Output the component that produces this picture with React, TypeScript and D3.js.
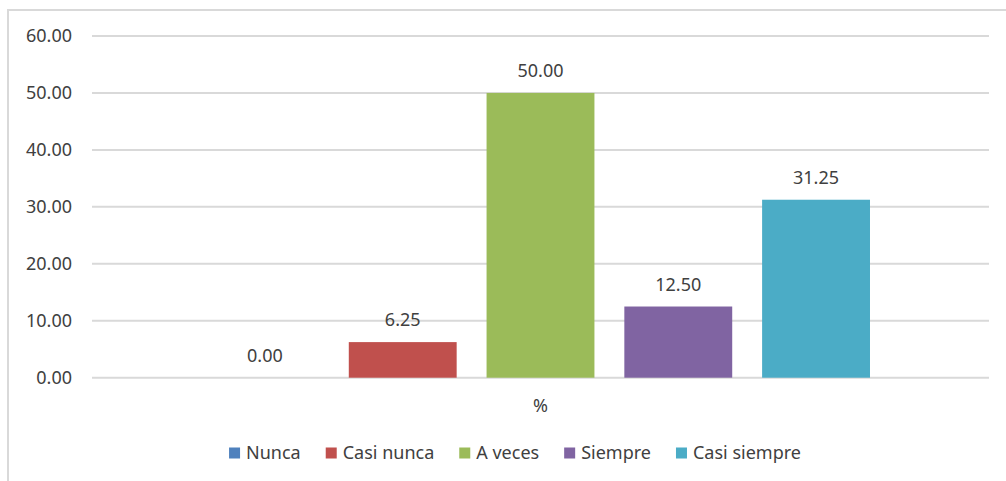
import React, { useEffect, useRef } from "react";
import * as d3 from "d3";

const categories = ["%"];
const seriesNames = ["Nunca", "Casi nunca", "A veces", "Siempre", "Casi siempre"];
const seriesValues = [0.0, 6.25, 50.0, 12.5, 31.25];
const seriesColors = ["#4F81BD", "#C0504D", "#9BBB59", "#8064A2", "#4BACC6"];
const yTicks = [0, 10, 20, 30, 40, 50, 60];

const W = 1006;
const H = 481;
const FONT = "'Noto Sans', 'Open Sans', sans-serif";
const TEXT = "#404040";

export default function App() {
  const ref = useRef<SVGSVGElement | null>(null);

  useEffect(() => {
    const svg = d3.select(ref.current);
    svg.selectAll("*").remove();

    const plotLeft = 92, plotRight = 989, plotTop = 36, plotBottom = 377.7;

    // chart border
    svg.append("path")
      .attr("d", `M8,${H} L8,10 L${W},10`)
      .attr("fill", "none")
      .attr("stroke", "#D9D9D9")
      .attr("stroke-width", 2);

    const y = d3.scaleLinear().domain([0, 60]).range([plotBottom, plotTop]);
    const x0 = d3.scaleBand<string>().domain(categories).range([plotLeft, plotRight])
      .paddingInner(0).paddingOuter(0.1806);
    const x1 = d3.scaleBand<string>().domain(seriesNames).range([0, x0.bandwidth()])
      .paddingInner(0.217).paddingOuter(0);

    // gridlines
    svg.append("g").selectAll("line").data(yTicks).join("line")
      .attr("x1", plotLeft).attr("x2", plotRight)
      .attr("y1", (d) => y(d)).attr("y2", (d) => y(d))
      .attr("stroke", "#D9D9D9").attr("stroke-width", 2);

    // y labels
    svg.append("g").selectAll("text").data(yTicks).join("text")
      .attr("x", 72).attr("y", (d) => y(d))
      .attr("dy", "0.35em")
      .attr("text-anchor", "end")
      .attr("font-family", FONT).attr("font-size", 18).attr("fill", TEXT)
      .text((d) => d.toFixed(2));

    // bars
    const g = svg.append("g");
    categories.forEach((c) => {
      const gx = x0(c) as number;
      g.selectAll("rect.bar").data(seriesNames).join("rect")
        .attr("class", "bar")
        .attr("x", (s) => gx + (x1(s) as number))
        .attr("width", x1.bandwidth())
        .attr("y", (_, i) => y(seriesValues[i]))
        .attr("height", (_, i) => y(0) - y(seriesValues[i]))
        .attr("fill", (_, i) => seriesColors[i]);
      g.selectAll("text.val").data(seriesNames).join("text")
        .attr("class", "val")
        .attr("x", (s) => gx + (x1(s) as number) + x1.bandwidth() / 2)
        .attr("y", (_, i) => y(seriesValues[i]) - 22)
        .attr("dy", "0.35em")
        .attr("text-anchor", "middle")
        .attr("font-family", FONT).attr("font-size", 18).attr("fill", TEXT)
        .text((_, i) => seriesValues[i].toFixed(2));
      svg.append("text")
        .attr("x", gx + x0.bandwidth() / 2).attr("y", 406)
        .attr("dy", "0.35em").attr("text-anchor", "middle")
        .attr("font-family", FONT).attr("font-size", 18).attr("fill", TEXT)
        .text(c);
    });

    // legend
    const lg = svg.append("g");
    const items = lg.selectAll("g").data(seriesNames).join("g");
    items.append("rect").attr("width", 11).attr("height", 11).attr("y", -5.5)
      .attr("fill", (_, i) => seriesColors[i]);
    const texts = items.append("text").attr("x", 17).attr("dy", "0.35em")
      .attr("font-family", FONT).attr("font-size", 18).attr("fill", TEXT)
      .text((d) => d);
    const widths: number[] = [];
    texts.each(function () { widths.push((this as SVGTextElement).getComputedTextLength()); });
    const gap = 25;
    const total = widths.reduce((a, w) => a + 17 + w, 0) + gap * (widths.length - 1);
    let cx = 515 - total / 2;
    items.attr("transform", (_, i) => {
      const t = `translate(${cx},453)`;
      cx += 17 + widths[i] + gap;
      return t;
    });
  }, []);

  return (
    <svg ref={ref} width={W} height={H}
      style={{ position: "absolute", left: 0, top: 0, background: "#fff" }} />
  );
}
